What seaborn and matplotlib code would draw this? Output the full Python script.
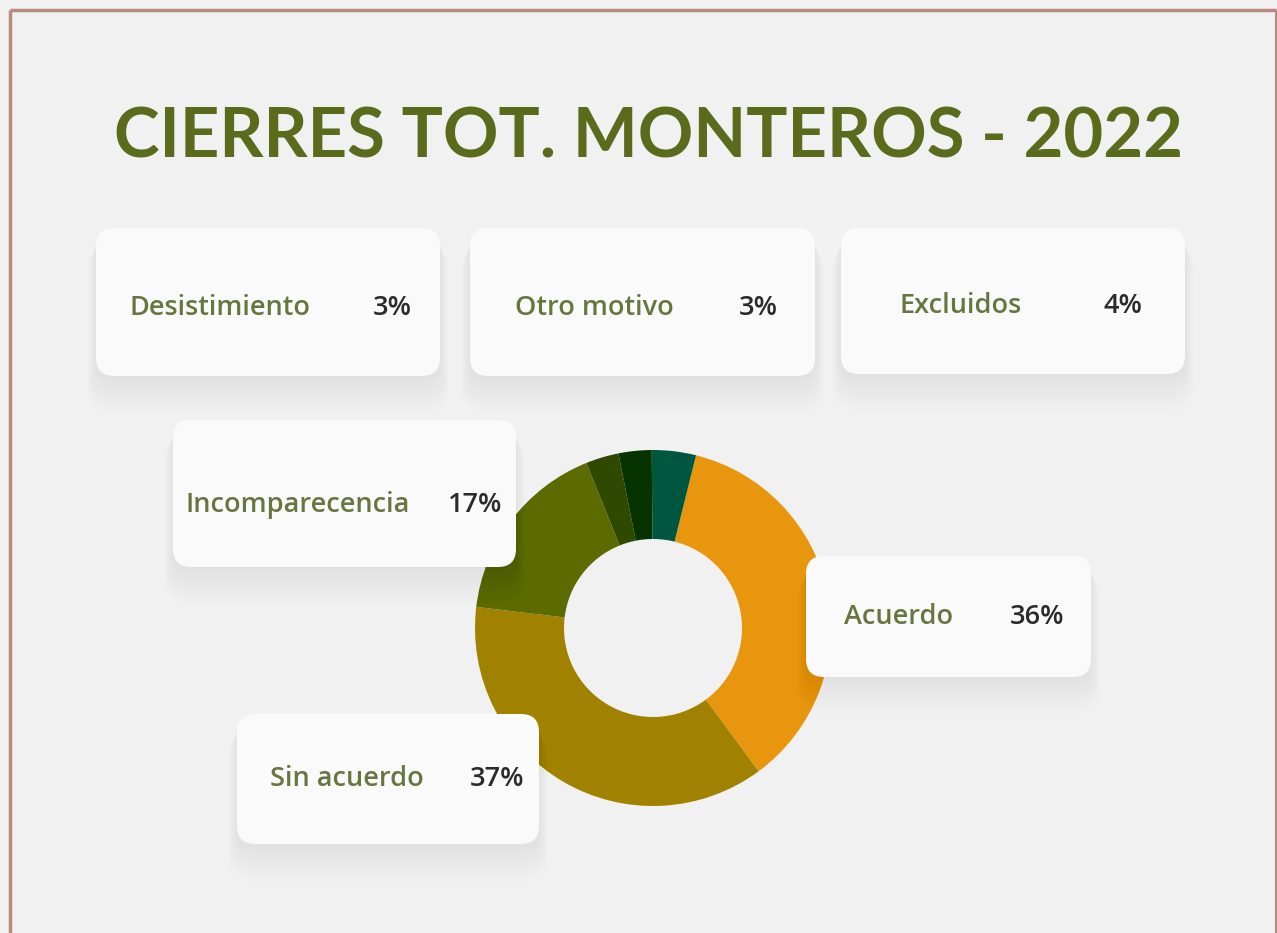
import seaborn as sns
import matplotlib.pyplot as plt
from matplotlib.patches import FancyBboxPatch

# datos del grafico
categories = ["Acuerdo", "Sin acuerdo", "Incomparecencia", "Desistimiento", "Otro motivo", "Excluidos"]
shares = [36, 37, 17, 3, 3, 4]
slice_colors = ["#e8960e", "#a08200", "#5b6b00", "#2f4a00", "#063300", "#00573f"]
title = "CIERRES TOT. MONTEROS - 2022"

# tarjetas: x0, y0, x1, y1, x etiqueta, x porcentaje, y texto (pixeles desde arriba)
cards = {
    "Desistimiento": (96, 228, 440, 376, 130, 373, 308),
    "Otro motivo": (470, 228, 815, 376, 515, 739, 308),
    "Excluidos": (841, 228, 1185, 374, 900, 1104, 306),
    "Incomparecencia": (173, 420, 516, 567, 185, 448, 505),
    "Acuerdo": (806, 556, 1091, 677, 844, 1010, 617),
    "Sin acuerdo": (237, 714, 539, 844, 270, 470, 779),
}

sns.set_theme(style="white")
plt.rcParams["font.family"] = ["Open Sans", "DejaVu Sans"]

W, H = 1277, 933
fig = plt.figure(figsize=(W / 100, H / 100), dpi=100, facecolor="#f1f1f1")

# donut
cx, cy, r = 653, 628, 178
pie_ax = fig.add_axes([(cx - r) / W, (H - cy - r) / H, 2 * r / W, 2 * r / H], zorder=1)
pie_ax.pie(shares, colors=slice_colors, startangle=76, counterclock=False,
           wedgeprops=dict(width=0.5, linewidth=0))
pie_ax.set_xlim(-1, 1)
pie_ax.set_ylim(-1, 1)
pie_ax.axis("off")

# capa de tarjetas y titulo
ax = fig.add_axes([0, 0, 1, 1], zorder=2)
ax.set_xlim(0, W)
ax.set_ylim(H, 0)
ax.patch.set_alpha(0)
ax.axis("off")

ax.text(648, 138, title, ha="center", va="center", fontsize=49.5,
        fontweight="bold", color="#5a6b1c", family=["Lato", "DejaVu Sans"])

pct = dict(zip(categories, shares))
for name, (x0, y0, x1, y1, lx, px, ty) in cards.items():
    w, h = x1 - x0, y1 - y0
    for i in range(16):
        s = i * 0.6
        off = 2 + i * 1.8
        ax.add_patch(FancyBboxPatch((x0 - s, y0 + off - s), w + 2 * s, h + 2 * s,
                                    boxstyle=f"round,pad=0,rounding_size={18 + s}",
                                    fc="black", ec="none", alpha=0.0045))
    ax.add_patch(FancyBboxPatch((x0, y0), w, h, boxstyle="round,pad=0,rounding_size=18",
                                fc="#fafafa", ec="none"))
    ax.text(lx, ty, name, ha="left", va="center", fontsize=19.5,
            fontweight="semibold", color="#67763f")
    ax.text(px, ty, f"{pct[name]}%", ha="left", va="center", fontsize=19.5,
            fontweight="semibold", color="#2b2b2b")

# marco
ax.plot([9.5, 9.5], [H, 9.5], color="#b98a7e", lw=2.5, solid_capstyle="butt")
ax.plot([9.5, 1275.5], [9.5, 9.5], color="#b98a7e", lw=2.5, solid_capstyle="butt")
ax.plot([1275.5, 1275.5], [9.5, H], color="#b98a7e", lw=1.5, solid_capstyle="butt")

fig.savefig("out.png", dpi=100, facecolor=fig.get_facecolor())
